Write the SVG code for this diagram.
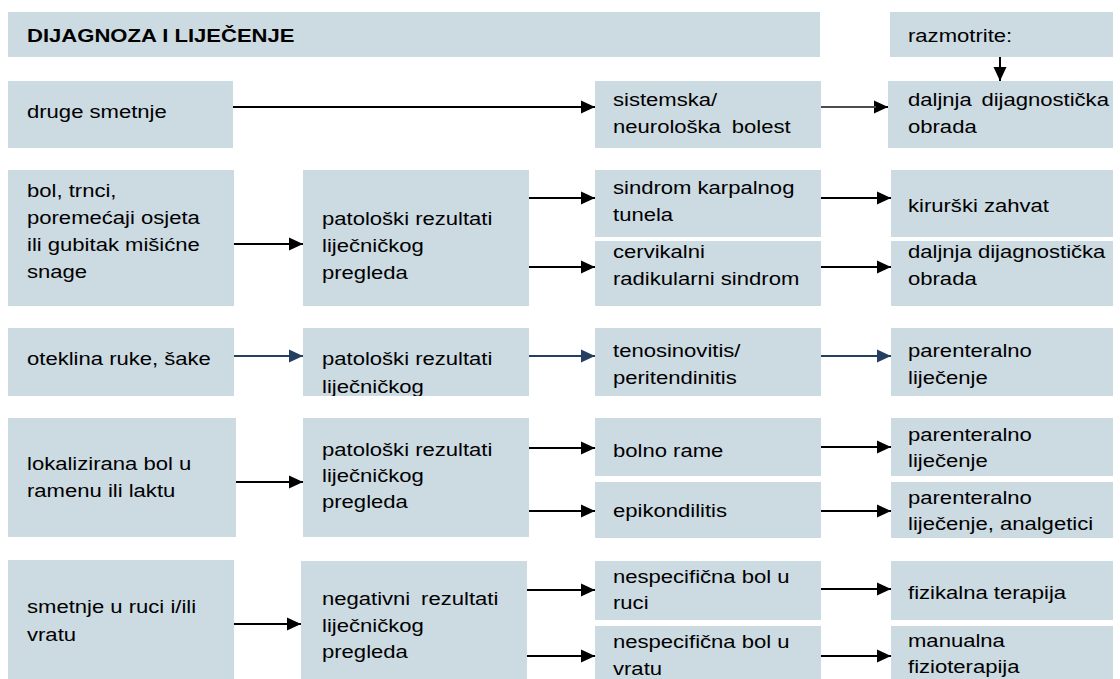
<svg xmlns="http://www.w3.org/2000/svg" width="1120" height="679" viewBox="0 0 1120 679">
<style>
.box{fill:#CCDAE2}
.t{font-family:"Liberation Sans",Arial,Helvetica,sans-serif;font-size:18.7px;fill:#000}
.b{font-weight:bold}
.c{stroke:#000;stroke-width:2;fill:none}
.n{stroke:#243F60;stroke-width:2;fill:none}
</style>
<defs>
<marker id="ah" markerUnits="userSpaceOnUse" markerWidth="15" markerHeight="14" refX="14" refY="7" orient="auto"><path d="M0,0.5 L14,7 L0,13.5 z" fill="#000"/></marker>
<marker id="an" markerUnits="userSpaceOnUse" markerWidth="15" markerHeight="14" refX="14" refY="7" orient="auto"><path d="M0,0.5 L14,7 L0,13.5 z" fill="#243F60"/></marker>
<clipPath id="clipP2"><rect x="303" y="328" width="226" height="68"/></clipPath>
</defs>
<rect width="1120" height="679" fill="#fff"/>

<g id="title"><rect class="box" x="8" y="12" width="812" height="45"/><text class="t b" transform="translate(27,42) scale(1.18,1)">DIJAGNOZA I LIJEČENJE</text></g>
<g id="razmotrite"><rect class="box" x="890" y="12" width="223" height="45"/><text class="t" transform="translate(908,42) scale(1.18,1)">razmotrite:</text></g>

<g id="n-druge"><rect class="box" x="8" y="81" width="225" height="67"/><text class="t" transform="translate(27,118) scale(1.18,1)">druge smetnje</text></g>
<g id="n-sistemska"><rect class="box" x="595" y="81" width="226" height="67"/><text class="t" transform="translate(613,106) scale(1.18,1)"><tspan x="0" y="0">sistemska/</tspan><tspan x="0" y="27" word-spacing="4">neurološka bolest</tspan></text></g>
<g id="n-daljnja1"><rect class="box" x="888" y="81" width="225" height="67"/><text class="t" transform="translate(908,106) scale(1.18,1)"><tspan x="0" y="0" word-spacing="3">daljnja dijagnostička</tspan><tspan x="0" y="27">obrada</tspan></text></g>

<g id="n-bol"><rect class="box" x="8" y="170" width="226" height="136"/><text class="t" transform="translate(27,197) scale(1.18,1)"><tspan x="0" y="0">bol, trnci,</tspan><tspan x="0" y="27">poremećaji osjeta</tspan><tspan x="0" y="54">ili gubitak mišićne</tspan><tspan x="0" y="81">snage</tspan></text></g>
<g id="n-pat1"><rect class="box" x="303" y="170" width="226" height="136"/><text class="t" transform="translate(322,225) scale(1.18,1)"><tspan x="0" y="0">patološki rezultati</tspan><tspan x="0" y="27">liječničkog</tspan><tspan x="0" y="54">pregleda</tspan></text></g>
<g id="n-sindrom"><rect class="box" x="595" y="170" width="226" height="67"/><text class="t" transform="translate(613,194) scale(1.18,1)"><tspan x="0" y="0">sindrom karpalnog</tspan><tspan x="0" y="27">tunela</tspan></text></g>
<g id="n-cervikalni"><rect class="box" x="595" y="241" width="226" height="65"/><text class="t" transform="translate(613,258) scale(1.18,1)"><tspan x="0" y="0">cervikalni</tspan><tspan x="0" y="27">radikularni sindrom</tspan></text></g>
<g id="n-kirurski"><rect class="box" x="891" y="170" width="222" height="67"/><text class="t" transform="translate(908,212) scale(1.18,1)">kirurški zahvat</text></g>
<g id="n-daljnja2"><rect class="box" x="891" y="241" width="222" height="65"/><text class="t" transform="translate(908,258) scale(1.18,1)"><tspan x="0" y="0">daljnja dijagnostička</tspan><tspan x="0" y="27">obrada</tspan></text></g>

<g id="n-oteklina"><rect class="box" x="8" y="328" width="226" height="68"/><text class="t" transform="translate(27,365) scale(1.18,1)">oteklina ruke, šake</text></g>
<g id="n-pat2"><rect class="box" x="303" y="328" width="226" height="68"/><g clip-path="url(#clipP2)"><text class="t" transform="translate(322,365) scale(1.18,1)"><tspan x="0" y="0">patološki rezultati</tspan><tspan x="0" y="28">liječničkog</tspan></text></g></g>
<g id="n-teno"><rect class="box" x="595" y="328" width="226" height="68"/><text class="t" transform="translate(613,357) scale(1.18,1)"><tspan x="0" y="0">tenosinovitis/</tspan><tspan x="0" y="27">peritendinitis</tspan></text></g>
<g id="n-parent1"><rect class="box" x="891" y="328" width="222" height="68"/><text class="t" transform="translate(908,357) scale(1.18,1)"><tspan x="0" y="0">parenteralno</tspan><tspan x="0" y="27">liječenje</tspan></text></g>

<g id="n-lokal"><rect class="box" x="8" y="418" width="228" height="119"/><text class="t" transform="translate(27,470) scale(1.18,1)"><tspan x="0" y="0">lokalizirana bol u</tspan><tspan x="0" y="27">ramenu ili laktu</tspan></text></g>
<g id="n-pat3"><rect class="box" x="303" y="418" width="226" height="119"/><text class="t" transform="translate(322,456) scale(1.18,1)"><tspan x="0" y="0">patološki rezultati</tspan><tspan x="0" y="26">liječničkog</tspan><tspan x="0" y="52">pregleda</tspan></text></g>
<g id="n-bolno"><rect class="box" x="595" y="418" width="226" height="58"/><text class="t" transform="translate(613,457) scale(1.18,1)">bolno rame</text></g>
<g id="n-epik"><rect class="box" x="595" y="482" width="226" height="56"/><text class="t" transform="translate(613,517) scale(1.18,1)">epikondilitis</text></g>
<g id="n-parent2"><rect class="box" x="891" y="418" width="222" height="58"/><text class="t" transform="translate(908,441) scale(1.18,1)"><tspan x="0" y="0">parenteralno</tspan><tspan x="0" y="26">liječenje</tspan></text></g>
<g id="n-parent3"><rect class="box" x="891" y="482" width="222" height="56"/><text class="t" transform="translate(908,504) scale(1.18,1)"><tspan x="0" y="0">parenteralno</tspan><tspan x="0" y="26">liječenje, analgetici</tspan></text></g>

<g id="n-smetnje"><rect class="box" x="8" y="560" width="226" height="119"/><text class="t" transform="translate(27,613) scale(1.18,1)"><tspan x="0" y="0">smetnje u ruci i/ili</tspan><tspan x="0" y="28">vratu</tspan></text></g>
<g id="n-neg"><rect class="box" x="301" y="561" width="226" height="118"/><text class="t" transform="translate(322,605) scale(1.18,1)"><tspan x="0" y="0" word-spacing="4">negativni rezultati</tspan><tspan x="0" y="27">liječničkog</tspan><tspan x="0" y="53">pregleda</tspan></text></g>
<g id="n-nesp1"><rect class="box" x="595" y="561" width="226" height="59"/><text class="t" transform="translate(613,583) scale(1.18,1)"><tspan x="0" y="0">nespecifična bol u</tspan><tspan x="0" y="26">ruci</tspan></text></g>
<g id="n-nesp2"><rect class="box" x="595" y="626" width="226" height="53"/><text class="t" transform="translate(613,648) scale(1.18,1)"><tspan x="0" y="0">nespecifična bol u</tspan><tspan x="0" y="27">vratu</tspan></text></g>
<g id="n-fizikalna"><rect class="box" x="891" y="561" width="222" height="59"/><text class="t" transform="translate(908,599) scale(1.18,1)">fizikalna terapija</text></g>
<g id="n-manualna"><rect class="box" x="891" y="626" width="222" height="53"/><text class="t" transform="translate(908,647) scale(1.18,1)"><tspan x="0" y="0">manualna</tspan><tspan x="0" y="26">fizioterapija</tspan></text></g>

<g id="connectors">
<line class="c" x1="1000" y1="57" x2="1000" y2="81" marker-end="url(#ah)"/>
<line class="c" x1="233" y1="107" x2="595" y2="107" marker-end="url(#ah)"/>
<line class="c" x1="821" y1="107" x2="888" y2="107" stroke-width="3" marker-end="url(#ah)"/>
<line x1="821" y1="107" x2="876" y2="107" stroke="#999" stroke-width="1"/>
<line class="c" x1="234" y1="244" x2="303" y2="244" marker-end="url(#ah)"/>
<line class="c" x1="529" y1="198" x2="595" y2="198" marker-end="url(#ah)"/>
<line class="c" x1="529" y1="267" x2="595" y2="267" marker-end="url(#ah)"/>
<line class="c" x1="821" y1="198" x2="891" y2="198" marker-end="url(#ah)"/>
<line class="c" x1="821" y1="267" x2="891" y2="267" marker-end="url(#ah)"/>
<line class="n" x1="234" y1="356" x2="303" y2="356" marker-end="url(#an)"/>
<line class="n" x1="529" y1="356" x2="595" y2="356" marker-end="url(#an)"/>
<line class="n" x1="821" y1="356" x2="891" y2="356" marker-end="url(#an)"/>
<line class="c" x1="236" y1="482" x2="303" y2="482" marker-end="url(#ah)"/>
<line class="c" x1="529" y1="448" x2="595" y2="448" marker-end="url(#ah)"/>
<line class="c" x1="529" y1="511" x2="595" y2="511" marker-end="url(#ah)"/>
<line class="c" x1="821" y1="447" x2="891" y2="447" marker-end="url(#ah)"/>
<line class="c" x1="821" y1="511" x2="891" y2="511" marker-end="url(#ah)"/>
<line class="c" x1="234" y1="624" x2="301" y2="624" marker-end="url(#ah)"/>
<line class="c" x1="527" y1="590" x2="595" y2="590" marker-end="url(#ah)"/>
<line class="c" x1="527" y1="656" x2="595" y2="656" marker-end="url(#ah)"/>
<line class="c" x1="821" y1="589" x2="891" y2="589" marker-end="url(#ah)"/>
<line class="c" x1="821" y1="656" x2="891" y2="656" marker-end="url(#ah)"/>
</g>
</svg>
